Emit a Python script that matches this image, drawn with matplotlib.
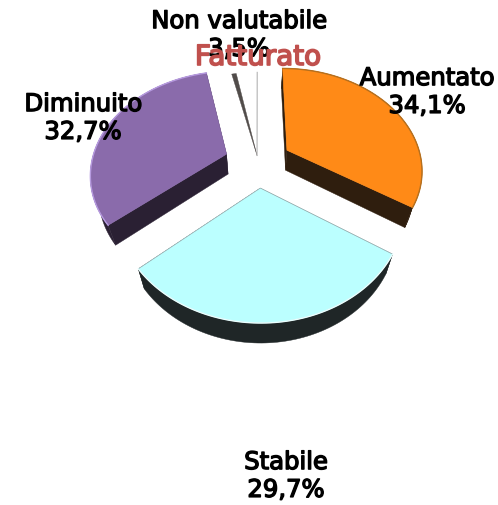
import numpy as np
import matplotlib
matplotlib.use("Agg")
import matplotlib.pyplot as plt
import matplotlib.patheffects as pe
from matplotlib.patches import Polygon

labels = ["Aumentato", "Stabile", "Diminuito", "Non valutabile"]
values = [34.1, 29.7, 32.7, 3.5]
title = "Fatturato"

top_colors = ["#FF8A17", "#BBFFFF", "#8A6BAB", "#FFFFFF"]
side_colors = ["#2F1E0E", "#1F2627", "#2A2033", "#514C4A"]
rim_colors = ["#B5701F", "#EAFFFF", "#B79BE0", "#FFFFFF"]
edge_colors = ["#FF8A17", "#A9C4C6", "#8A6BAB", "#FFFFFF"]
explode = [0.25, 0.25, 0.25, 0.065]
label_pos = [(427, 92), (286, 476), (83, 118), (239, 35)]

# projection of the pie plane to pixels
CX, CY = 258, 167
A, B = 136, 102
P = 0.18
LIFT = 0.05
DEPTH = 20
SHRINK = 0.95


def project(X, Y):
    Y = Y + LIFT
    w = 1 / (1 + P * Y)
    return np.column_stack([CX + A * X * w, CY - B * Y * w])


def outline(start, end, exp):
    mid = (start + end) / 2
    ox = exp * np.sin(mid)
    oy = exp * np.cos(mid)
    t = np.linspace(start, end, 80)
    rim = project(ox + np.sin(t), oy + np.cos(t))
    tip = project(np.array([ox]), np.array([oy]))
    return tip, rim


def lower(pts):
    return np.column_stack([CX + (pts[:, 0] - CX) * SHRINK, pts[:, 1] + DEPTH])


def draw_side(ax, pts, color, z):
    poly = np.vstack([pts, lower(pts)[::-1]])
    ax.add_patch(Polygon(poly, closed=True, fc=color, ec=color, lw=0.3, zorder=z))


fig = plt.figure(figsize=(4.98, 5.05), dpi=100)
ax = fig.add_axes([0, 0, 1, 1])
ax.set_xlim(0, 498)
ax.set_ylim(505, 0)
ax.axis("off")

angles = np.cumsum([0] + values) / sum(values) * 2 * np.pi
order = [3, 0, 2, 1]  # back to front
for z, i in enumerate(order):
    start, end = angles[i], angles[i + 1]
    tip, rim = outline(start, end, explode[i])
    base = 2 + z * 2
    if i == 3:
        # only the inner wall and one thin edge of this slice are visible
        t2, r2 = outline(start, start + 0.04, explode[i])
        ax.add_patch(Polygon(np.vstack([tip, r2]), closed=True, fc=side_colors[i],
                             ec=side_colors[i], lw=0.3, zorder=base))
        ax.plot([tip[0, 0], rim[-1, 0]], [tip[0, 1], rim[-1, 1]], color="#A8A8A8",
                lw=0.7, zorder=base)
        continue
    draw_side(ax, rim, side_colors[i], base)
    draw_side(ax, np.vstack([tip, rim[:1]]), side_colors[i], base)
    draw_side(ax, np.vstack([tip, rim[-1:]]), side_colors[i], base)
    ring = np.vstack([tip, rim, tip])
    ax.add_patch(Polygon(ring, closed=True, fc=top_colors[i], ec=edge_colors[i], lw=0.5,
                         zorder=base + 1))
    ax.plot(rim[:, 0], rim[:, 1], color=rim_colors[i], lw=1.0, zorder=base + 1)

for name, val, (x, y) in zip(labels, values, label_pos):
    txt = f"{name}\n{val:.1f}%".replace(".", ",")
    ax.text(x, y, txt, ha="center", va="center", fontsize=17.5, color="black",
            linespacing=1.2, zorder=20, family="DejaVu Sans",
            path_effects=[pe.withStroke(linewidth=1.0, foreground="black")])

ax.text(258, 57, title, ha="center", va="center", fontsize=20, color="#C0504D",
        zorder=21, family="DejaVu Sans",
        path_effects=[pe.withStroke(linewidth=1.2, foreground="#C0504D")])

fig.savefig("out.png", dpi=100, facecolor="white")
